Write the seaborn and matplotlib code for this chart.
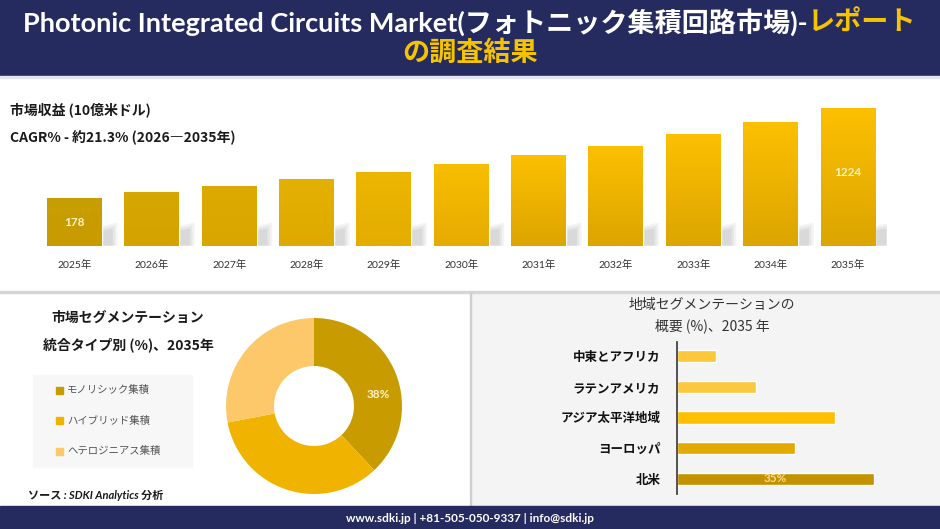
import numpy as np
import pandas as pd
import seaborn as sns
import matplotlib.pyplot as plt
from matplotlib.patches import Rectangle, Polygon
from matplotlib.colors import to_rgb

# ---- data ----
years = ["2025年", "2026年", "2027年", "2028年", "2029年", "2030年",
         "2031年", "2032年", "2033年", "2034年", "2035年"]
revenue = [178, 248, 314, 393, 478, 571, 676, 784, 917, 1057, 1224]
revenue_labels = {0: "178", 10: "1224"}

seg_names = ["モノリシック集積", "ハイブリッド集積", "ヘテロジニアス集積"]
seg_share = [38, 34, 28]
seg_colors = ["#c89b00", "#f0b400", "#fdc86a"]

regions = ["中東とアフリカ", "ラテンアメリカ", "アジア太平洋地域", "ヨーロッパ", "北米"]
region_share = [7, 14, 28, 21, 35]
region_colors = ["#fcc83a", "#fcc840", "#fdbf00", "#e2aa00", "#c49200"]

bar_top = ["#c89e00", "#d6a600", "#dcaa00", "#e4b000", "#ecb600", "#f8be00",
           "#fcc000", "#fcc000", "#fcc000", "#fcc000", "#fcc000"]
bar_bottom = ["#c89b00", "#d4a300", "#d9a600", "#dfaa00", "#e4ad00", "#e6ab00",
              "#dca500", "#dca500", "#dca500", "#dca500", "#dca500"]

NAVY = "#252b5f"
W, H = 940, 529
BASE = -382  # visual baseline of the revenue bars

sns.set_theme(style="white")
plt.rcParams["font.family"] = ["Lato", "Noto Sans CJK JP", "DejaVu Sans"]
CJK = ["Noto Sans CJK JP", "DejaVu Sans"]

fig = plt.figure(figsize=(9.4, 5.29), dpi=100)


def px_axes(x0, y0, x1, y1, **kw):
    return fig.add_axes([x0 / W, 1 - y1 / H, (x1 - x0) / W, (y1 - y0) / H], **kw)


# background layer in pixel coordinates
bg = fig.add_axes([0, 0, 1, 1], zorder=-5)
bg.set_xlim(0, W)
bg.set_ylim(H, 0)
bg.axis("off")
bg.add_patch(Rectangle((0, 0), W, 75, color=NAVY))
bg.add_patch(Rectangle((0, 76), W, 1.5, color="#e3e6ee"))
bg.add_patch(Rectangle((471, 292), W - 471, 214, color="#f4f4f4"))
bg.add_patch(Rectangle((0, 291), W, 1.5, color="#d6d6d6"))
bg.add_patch(Rectangle((470, 292), 1.2, 214, color="#cfcfcf"))
bg.add_patch(Rectangle((0, 506), W, H - 506, color=NAVY))

# title with two colours
t1 = bg.text(0, 22, "Photonic Integrated Circuits Market(フォトニック集積回路市場)-",
             color="white", fontsize=19.5, fontweight="bold", va="center", ha="left")
t2 = bg.text(0, 22, "レポート", color="#f5c400", fontsize=19.5,
             fontweight="bold", va="center", ha="left")
fig.canvas.draw()
r = fig.canvas.get_renderer()
w1 = t1.get_window_extent(r).width
w2 = t2.get_window_extent(r).width
start = W / 2 - (w1 + w2) / 2
t1.set_x(start)
t2.set_x(start + w1)
bg.text(W / 2, 52, "の調査結果", color="#f5c400", fontsize=19.5, fontweight="bold",
        va="center", ha="center")

# revenue header
bg.text(10, 110, "市場収益 (10億米ドル)", fontsize=10, fontweight="bold",
        color="#1a1a1a", va="center", family=CJK)
bg.text(10, 138, "CAGR% - 約21.3% (2026―2035年)", fontsize=10, fontweight="bold",
        color="#1a1a1a", va="center", family=CJK)

# ---- revenue bars ----
ax = px_axes(35.8, 95, 886.7, 245.7)
ax.patch.set_alpha(0)
df = pd.DataFrame({"year": years, "revenue": revenue})
sns.barplot(data=df, x="year", y="revenue", hue="year", palette=bar_top,
            legend=False, width=0.71, saturation=1, ax=ax, zorder=3)
for i, p in enumerate(ax.patches):
    top = p.get_height()
    p.set_y(BASE)
    p.set_height(top - BASE)
    x0, w = p.get_x(), p.get_width()
    # soft shadow to the right of each bar
    for k, a in enumerate([0.10, 0.12, 0.14]):
        ax.add_patch(Polygon([(x0 + 0.3 * w, BASE), (x0 + w + 0.20 - 0.03 * k, BASE),
                              (x0 + w + 0.20 - 0.03 * k, BASE + 270 - 35 * k),
                              (x0 + 0.3 * w, BASE + 140 - 20 * k)],
                             closed=True, color="#8c8c8c", alpha=a, lw=0, zorder=1))
    # vertical gradient fill
    c1, c2 = np.array(to_rgb(bar_top[i])), np.array(to_rgb(bar_bottom[i]))
    grad = np.linspace(0, 1, 64)[:, None, None] * (c2 - c1) + c1
    im = ax.imshow(grad, extent=(x0, x0 + w, BASE, top), origin="upper",
                   aspect="auto", zorder=4)
    im.set_clip_path(p)
    if i in revenue_labels:
        frac = 0.49 if i == 0 else 0.535
        ax.text(x0 + w / 2, BASE + frac * (top - BASE), revenue_labels[i],
                ha="center", va="center", fontsize=8.5, fontweight="bold",
                color="#fff3c8", zorder=6)
ax.set_xlim(-0.5, len(years) - 0.5)
ax.set_ylim(BASE, BASE + 1757)
ax.set_xlabel("")
ax.set_ylabel("")
ax.set_yticks([])
ax.tick_params(axis="x", length=0, pad=10, labelsize=7.5, labelcolor="#333333")
for s in ax.spines.values():
    s.set_visible(False)

# ---- segmentation donut ----
bg.text(128, 318, "市場セグメンテーション", fontsize=10, fontweight="bold",
        ha="center", va="center", color="#1a1a1a", family=CJK)
bg.text(128, 345, "統合タイプ別 (%)、2035年", fontsize=10, fontweight="bold",
        ha="center", va="center", color="#1a1a1a", family=CJK)
bg.add_patch(Rectangle((33, 375), 159, 92, color="#f7f7f7"))
for k, (name, col) in enumerate(zip(seg_names, seg_colors)):
    yy = 390 + k * 30.5
    bg.add_patch(Rectangle((56, yy - 3.5), 7, 7, color=col))
    bg.text(67, yy, name, fontsize=7.5, color="#555555", va="center", family=CJK)

pax = px_axes(224, 316, 404, 496)
wedges, _ = pax.pie(seg_share, colors=seg_colors, startangle=90, counterclock=False,
                    radius=88 / 90, wedgeprops=dict(width=48 / 90, linewidth=0))
pax.set_xlim(-1, 1)
pax.set_ylim(-1, 1)
pax.set_aspect("equal")
pax.text(0.71, 0.13, f"{seg_share[0]}%", ha="center", va="center", fontsize=8.5,
         fontweight="bold", color="#fff3c8")

bg.text(28, 495, "ソース : SDKI Analytics 分析", fontsize=8, fontweight="bold",
        style="italic", va="center", color="#1a1a1a")

# ---- regional bars ----
bg.text(712, 305, "地域セグメンテーションの", fontsize=10, ha="center", va="center",
        color="#333333", family=CJK)
bg.text(712, 326, "概要 (%)、2035 年", fontsize=10, ha="center", va="center",
        color="#333333", family=CJK)
rax = px_axes(677, 341.7, 897, 494)
rax.patch.set_alpha(0)
rdf = pd.DataFrame({"region": regions, "share": region_share})
sns.barplot(data=rdf, y="region", x="share", hue="region", palette=region_colors,
            legend=False, orient="h", width=0.4, saturation=1, ax=rax)
rax.set_xlim(0, 220 / 5.63)
rax.set_ylim(4.5, -0.47)
rax.set_xlabel("")
rax.set_ylabel("")
rax.set_xticks([])
rax.tick_params(axis="y", length=0, pad=12)
for lab in rax.get_yticklabels():
    lab.set_fontweight("bold")
    lab.set_fontsize(9)
    lab.set_color("#111111")
    lab.set_family(CJK)
for s in ["top", "right", "bottom"]:
    rax.spines[s].set_visible(False)
rax.spines["left"].set_color("#444444")
rax.spines["left"].set_linewidth(1.3)
rax.text(region_share[-1] / 2, 4, f"{region_share[-1]}%", ha="center", va="center",
         fontsize=8.5, fontweight="bold", color="#f6dc8a")

# footer
bg.text(W / 2, 518, "www.sdki.jp | +81-505-050-9337 | info@sdki.jp", color="white",
        fontsize=8.5, fontweight="bold", ha="center", va="center")

fig.savefig("out.png", dpi=100)
